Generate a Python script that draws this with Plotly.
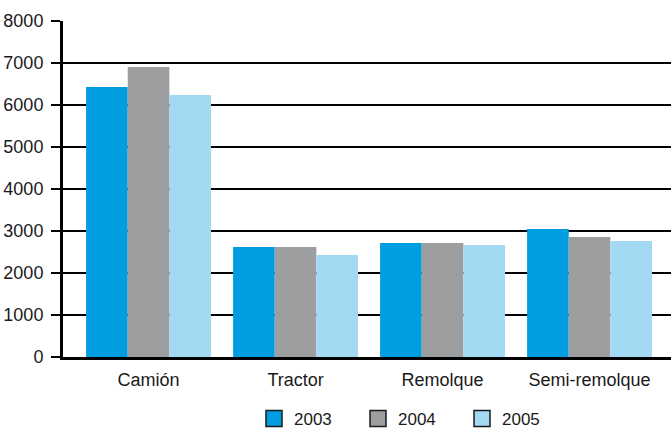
import plotly.graph_objects as go

# ─── Data ─────────────────────────────────────────────────────────────────────
categories = ["Camión", "Tractor", "Remolque", "Semi-remolque"]
years = ["2003", "2004", "2005"]
values_2003 = [6430, 2620, 2715, 3050]
values_2004 = [6905, 2620, 2715, 2860]
values_2005 = [6240, 2430, 2665, 2760]
y_ticks = [0, 1000, 2000, 3000, 4000, 5000, 6000, 7000, 8000]

COLORS = ["#009EE0", "#9D9EA0", "#A3D9F3"]
FONT = "Liberation Sans, Arial, sans-serif"

fig = go.Figure()
for year, vals, col in zip(years, [values_2003, values_2004, values_2005], COLORS):
    fig.add_trace(go.Bar(
        x=categories, y=vals, name=year,
        marker=dict(color=col, line=dict(width=0)),
        showlegend=False,
    ))
    # legend-only entry: outlined square like the original
    fig.add_trace(go.Scatter(
        x=[None], y=[None], mode="markers", name=year,
        marker=dict(symbol="square", size=16, color=col,
                    line=dict(color="#1a1a1a", width=1.5)),
    ))

fig.update_layout(
    barmode="group", bargap=0.15, bargroupgap=0,
    width=671, height=431,
    plot_bgcolor="white", paper_bgcolor="white",
    margin=dict(l=63, r=0, t=21, b=74, autoexpand=False),
    font=dict(family=FONT, size=18, color="#1a1a1a"),
    legend=dict(orientation="h", x=(254 - 63) / 608, xanchor="left",
                y=-(419 - 357) / 336, yanchor="middle",
                font=dict(size=17), entrywidth=59, entrywidthmode="pixels",
                bgcolor="rgba(0,0,0,0)"),
)
fig.update_xaxes(
    range=[-0.582, 3.554],
    showline=True, linecolor="black", linewidth=2.5,
    ticks="", showgrid=False, ticklabelstandoff=5,
)
fig.update_yaxes(
    range=[0, 8000], tickvals=y_ticks,
    showline=True, linecolor="black", linewidth=3,
    ticks="outside", ticklen=9, tickwidth=1.5, tickcolor="black",
    ticklabelstandoff=4,
    showgrid=True, gridcolor="black", gridwidth=1.6,
    zeroline=False,
)

# drop the default page margin so the figure sits at the window's corner
fig.write_html(
    "out.html",
    config={"displayModeBar": False},
    post_script="document.body.style.margin='0';document.body.style.overflow='hidden';",
)
